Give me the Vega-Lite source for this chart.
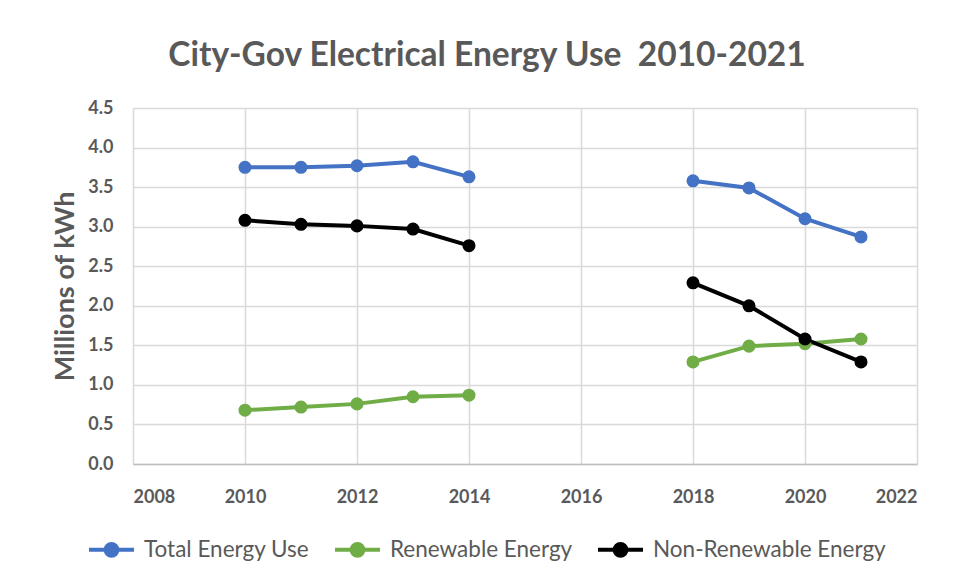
{
  "$schema": "https://vega.github.io/schema/vega-lite/v6.json",
  "autosize": "none",
  "width": 784,
  "height": 356,
  "padding": {"left": 133, "top": 108, "right": 39, "bottom": 116},
  "background": "white",
  "title": {
    "text": "City-Gov Electrical Energy Use \u00a02010-2021",
    "font": "Lato",
    "fontSize": 33.5,
    "fontWeight": "bold",
    "color": "#595959",
    "anchor": "middle",
    "frame": "group",
    "dx": -38,
    "offset": 26
  },
  "data": {
    "values": [
      {"year": 2010, "series": "Total Energy Use", "period": "A", "value": 3.75},
      {"year": 2011, "series": "Total Energy Use", "period": "A", "value": 3.75},
      {"year": 2012, "series": "Total Energy Use", "period": "A", "value": 3.77},
      {"year": 2013, "series": "Total Energy Use", "period": "A", "value": 3.82},
      {"year": 2014, "series": "Total Energy Use", "period": "A", "value": 3.63},
      {"year": 2018, "series": "Total Energy Use", "period": "B", "value": 3.58},
      {"year": 2019, "series": "Total Energy Use", "period": "B", "value": 3.49},
      {"year": 2020, "series": "Total Energy Use", "period": "B", "value": 3.10},
      {"year": 2021, "series": "Total Energy Use", "period": "B", "value": 2.87},
      {"year": 2010, "series": "Renewable Energy", "period": "A", "value": 0.68},
      {"year": 2011, "series": "Renewable Energy", "period": "A", "value": 0.72},
      {"year": 2012, "series": "Renewable Energy", "period": "A", "value": 0.76},
      {"year": 2013, "series": "Renewable Energy", "period": "A", "value": 0.85},
      {"year": 2014, "series": "Renewable Energy", "period": "A", "value": 0.87},
      {"year": 2018, "series": "Renewable Energy", "period": "B", "value": 1.29},
      {"year": 2019, "series": "Renewable Energy", "period": "B", "value": 1.49},
      {"year": 2020, "series": "Renewable Energy", "period": "B", "value": 1.52},
      {"year": 2021, "series": "Renewable Energy", "period": "B", "value": 1.58},
      {"year": 2010, "series": "Non-Renewable Energy", "period": "A", "value": 3.08},
      {"year": 2011, "series": "Non-Renewable Energy", "period": "A", "value": 3.03},
      {"year": 2012, "series": "Non-Renewable Energy", "period": "A", "value": 3.01},
      {"year": 2013, "series": "Non-Renewable Energy", "period": "A", "value": 2.97},
      {"year": 2014, "series": "Non-Renewable Energy", "period": "A", "value": 2.76},
      {"year": 2018, "series": "Non-Renewable Energy", "period": "B", "value": 2.29},
      {"year": 2019, "series": "Non-Renewable Energy", "period": "B", "value": 2.00},
      {"year": 2020, "series": "Non-Renewable Energy", "period": "B", "value": 1.58},
      {"year": 2021, "series": "Non-Renewable Energy", "period": "B", "value": 1.29}
    ]
  },
  "mark": {
    "type": "line",
    "strokeWidth": 4,
    "point": {"filled": true, "size": 170, "opacity": 1}
  },
  "encoding": {
    "x": {
      "field": "year",
      "type": "quantitative",
      "scale": {"domain": [2008, 2022], "nice": false, "zero": false},
      "axis": {
        "title": null,
        "values": [2008, 2010, 2012, 2014, 2016, 2018, 2020, 2022],
        "format": "d",
        "labelFont": "Lato",
        "labelFontSize": 18,
        "labelFontWeight": "bold",
        "labelColor": "#595959",
        "labelPadding": 24,
        "ticks": false,
        "domainColor": "#bfbfbf",
        "domainWidth": 1.5,
        "gridColor": "#d9d9d9",
        "gridWidth": 1.5
      }
    },
    "y": {
      "field": "value",
      "type": "quantitative",
      "scale": {"domain": [0, 4.5], "nice": false},
      "axis": {
        "title": "Millions of kWh",
        "titleFont": "Lato",
        "titleFontSize": 27,
        "titleFontWeight": "bold",
        "titleColor": "#595959",
        "titlePadding": 8,
        "values": [0, 0.5, 1, 1.5, 2, 2.5, 3, 3.5, 4, 4.5],
        "format": ".1f",
        "labelFont": "Lato",
        "labelFontSize": 18,
        "labelFontWeight": "bold",
        "labelColor": "#595959",
        "labelPadding": 20,
        "ticks": false,
        "domain": false,
        "gridColor": "#d9d9d9",
        "gridWidth": 1.5
      }
    },
    "color": {
      "field": "series",
      "type": "nominal",
      "sort": ["Total Energy Use", "Renewable Energy", "Non-Renewable Energy"],
      "scale": {
        "domain": ["Total Energy Use", "Renewable Energy", "Non-Renewable Energy"],
        "range": ["#4472C4", "#70AD47", "#000000"]
      },
      "legend": {
        "title": null,
        "orient": "none",
        "direction": "horizontal",
        "legendX": -46,
        "legendY": 417,
        "symbolType": "M-1,0H1M0.26,0A0.26,0.26,0,1,1,-0.26,0A0.26,0.26,0,1,1,0.26,0Z",
        "symbolSize": 2025,
        "symbolStrokeWidth": 4,
        "labelFont": "Lato",
        "labelFontSize": 22.5,
        "labelColor": "#595959",
        "labelLimit": 400,
        "labelOffset": 8,
        "columnPadding": 17,
        "encode": {
          "symbols": {"update": {"fill": {"scale": "color", "field": "value"}, "fillOpacity": {"value": 1}, "opacity": {"value": 1}}}
        }
      }
    },
    "detail": {"field": "period", "type": "nominal"}
  },
  "config": {
    "view": {"stroke": null}
  }
}
